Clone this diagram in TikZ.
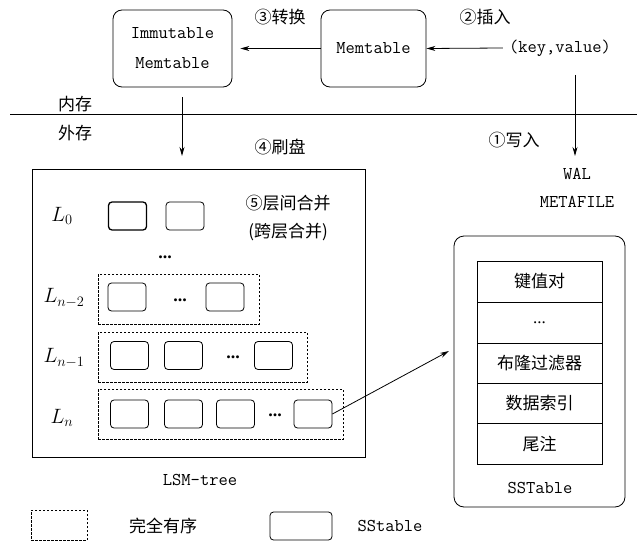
\documentclass[tikz,border=0pt]{standalone}
\usepackage{fontspec}
\newfontfamily\cjk{Noto Sans CJK SC}
\newfontfamily\dotf{Liberation Serif}
\usetikzlibrary{arrows.meta}
\tikzset{
  lat/.style={font=\ttfamily\fontsize{18}{30}\selectfont, align=center, inner sep=0pt},
  zh/.style={font=\cjk\fontsize{17}{20}\selectfont, inner sep=0pt},
  membox/.style={draw, rounded corners=9pt, line width=0.8pt, align=center, inner sep=0pt},
  sst/.style={draw, rounded corners=3.5pt, line width=0.8pt, minimum width=38pt, minimum height=28pt, inner sep=0pt},
  lvl/.style={draw, line width=0.7pt, dash pattern=on 2.5pt off 1.5pt, inner sep=0pt},
  row/.style={draw, line width=0.8pt, minimum width=125pt, inner sep=0pt, font=\cjk\fontsize{17}{20}\selectfont},
  lab/.style={font=\fontsize{20}{20}\selectfont, inner sep=0pt},
  dots/.style={font=\dotf\bfseries\fontsize{18}{18}\selectfont, inner sep=0pt},
  arr/.style={line width=0.8pt, -{Stealth[length=9pt,width=5pt]}},
}
\begin{document}
\begin{tikzpicture}[x=1pt,y=-1pt]
\useasboundingbox (0,0) rectangle (637,543);
% memory part
\node[membox, minimum width=119pt, minimum height=77pt, lat] (imm) at (172.5,48.5) {Immutable\\Memtable};
\node[membox, minimum width=105pt, minimum height=77pt, lat] (mem) at (373.5,48.5) {Memtable};
\node[lat] (kv) at (560,48) {(key,value)};
\node[zh] (t3) at (280,17) {③转换};
\node[zh] (t2) at (485,17) {②插入};
\draw[arr] ([xshift=-6pt]kv.west) -- (mem.east);
\draw[arr, shorten >=8pt] (mem.west) -- (imm.east);
% divider
\coordinate (dl) at (10,114);
\coordinate (dr) at (637,114);
\draw[line width=0.8pt] (dl) -- (dr);
\node[zh] (nc) at (75,104) {内存};
\node[zh] (wc) at (75,133) {外存};
% flush and WAL
\coordinate (f1) at (182,97);
\coordinate (f2) at (182,156);
\draw[arr] (f1) -- (f2);
\node[zh] (t4) at (280,147) {④刷盘};
\coordinate (w1) at (575,75);
\coordinate (w2) at (575,156);
\draw[arr] (w1) -- (w2);
\node[zh] (t1) at (514,140) {①写入};
\node[lat] (wal) at (577,174) {WAL};
\node[lat] (meta) at (577,202) {METAFILE};
% LSM tree
\node[draw, line width=0.8pt, minimum width=333pt, minimum height=288pt, inner sep=0pt] (lsm) at (198.5,313) {};
\node[lat] (lsmt) at (200,480) {LSM-tree};
\node[zh] (t5a) at (288,203) {⑤层间合并};
\node[zh] (t5b) at (288,232) {(跨层合并)};
% L0
\node[lab] (l0) at (62,216) {$L_0$};
\node[sst, line width=1.3pt] (a1) at (127.5,216) {};
\node[sst] (a2) at (185,216) {};
\node[dots] (d0) at (165,257) {...};
% Ln-2
\node[lab] (l1) at (64,298) {$L_{n-2}$};
\node[lvl, minimum width=161pt, minimum height=50pt] (g1) at (178.5,299) {};
\node[sst] (b1) at (127,297) {};
\node[dots] (d1) at (180,300) {...};
\node[sst] (b2) at (225,297) {};
% Ln-1
\node[lab] (l2) at (64,358) {$L_{n-1}$};
\node[lvl, minimum width=209pt, minimum height=50pt] (g2) at (202.5,357) {};
\node[sst] (c1) at (129.5,355.5) {};
\node[sst] (c2) at (183.5,355.5) {};
\node[dots] (d2) at (233,357) {...};
\node[sst] (c3) at (273.5,355.5) {};
% Ln
\node[lab] (l3) at (62,418) {$L_n$};
\node[lvl, minimum width=245pt, minimum height=50pt] (g3) at (220.5,414) {};
\node[sst] (e1) at (129.5,414) {};
\node[sst] (e2) at (183.5,414) {};
\node[sst] (e3) at (235.5,414) {};
\node[dots] (d3) at (275,415) {...};
\node[sst] (e4) at (313,414) {};
% SSTable
\node[draw, rounded corners=10pt, line width=0.8pt, minimum width=171pt, minimum height=271pt, inner sep=0pt] (ss) at (539.5,371.5) {};
\node[row, minimum height=41pt] (r1) at (539.5,281.5) {键值对};
\node[row, minimum height=41pt, font=\dotf\fontsize{17}{17}\selectfont] (r2) at (539.5,322.5) {...};
\node[row, minimum height=40pt] (r3) at (539.5,363) {布隆过滤器};
\node[row, minimum height=40pt] (r4) at (539.5,403) {数据索引};
\node[row, minimum height=41pt] (r5) at (539.5,443.5) {尾注};
\node[lat] (sst) at (540,488) {SSTable};
\coordinate (sin) at (449,351);
\draw[arr] (e4.east) -- (sin);
% legend
\node[lvl, minimum width=56pt, minimum height=30pt] (lg1) at (59,525) {};
\node[zh] (lt1) at (163,526) {完全有序};
\node[sst, minimum width=62pt] (lg2) at (301,526) {};
\node[lat] (lt2) at (390,526) {SStable};
\end{tikzpicture}
\end{document}
